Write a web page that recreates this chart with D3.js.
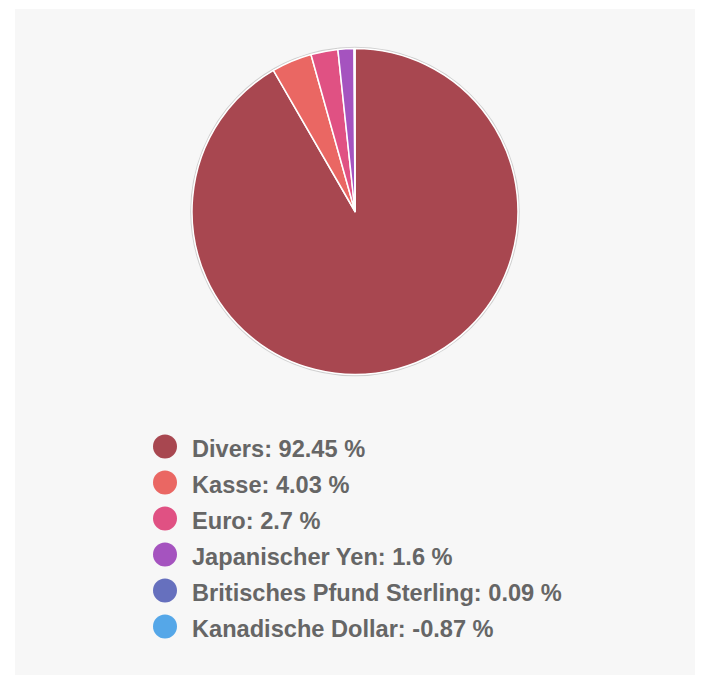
<!DOCTYPE html>
<html>
<head>
<meta charset="utf-8">
<script src="https://cdn.jsdelivr.net/npm/d3@7"></script>
<style>
  html, body { margin: 0; padding: 0; background: #ffffff; }
  svg { display: block; }
</style>
</head>
<body>
<div id="chart"></div>
<script>
const categories = ["Divers", "Kasse", "Euro", "Japanischer Yen", "Britisches Pfund Sterling", "Kanadische Dollar"];
const values = [92.45, 4.03, 2.7, 1.6, 0.09, -0.87];
const colors = ["#a84750", "#ea6763", "#e05183", "#a553bf", "#6670be", "#55a7e8"];

const W = 701, H = 680;
const svg = d3.select("#chart").append("svg").attr("width", W).attr("height", H);

svg.append("rect").attr("x", 15).attr("y", 9).attr("width", 680).attr("height", 666).attr("fill", "#f7f7f7");

const cx = 355, cy = 211.5, r = 163;
const data = categories.map((c, i) => ({ name: c, value: values[i], color: colors[i] }));

const pie = d3.pie().sort(null).value(d => Math.max(0, d.value));
const arc = d3.arc().innerRadius(0).outerRadius(r);

const g = svg.append("g").attr("transform", `translate(${cx},${cy})`);
g.append("circle").attr("r", r + 1).attr("fill", "none").attr("stroke", "#cfcfcf").attr("stroke-width", 1.5);
g.selectAll("path").data(pie(data).filter(d => d.data.value > 0)).enter().append("path")
  .attr("d", arc)
  .attr("fill", d => d.data.color)
  .attr("stroke", "#ffffff")
  .attr("stroke-width", 1.5)
  .attr("stroke-linejoin", "round");

const legendY = d3.scaleLinear().domain([0, 1]).range([446.5, 482.5]);
const leg = svg.append("g");
const rows = leg.selectAll("g").data(data).enter().append("g")
  .attr("transform", (d, i) => `translate(165,${legendY(i)})`);
rows.append("circle").attr("r", 12).attr("fill", d => d.color);
rows.append("text")
  .attr("x", 27).attr("y", 10.5)
  .attr("font-family", "'Liberation Sans', Arial, Helvetica, sans-serif")
  .attr("font-weight", "bold")
  .attr("font-size", "23.6px")
  .attr("fill", "#666666")
  .text(d => `${d.name}: ${d.value} %`);
</script>
</body>
</html>
